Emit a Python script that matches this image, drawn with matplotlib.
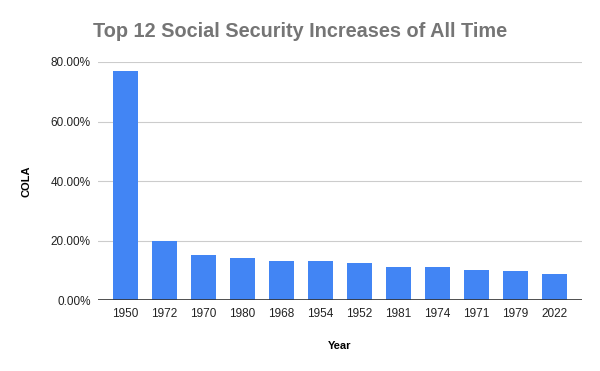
import matplotlib
matplotlib.use('Agg')
import matplotlib.pyplot as plt
from matplotlib.ticker import FuncFormatter

years = ['1950', '1972', '1970', '1980', '1968', '1954', '1952', '1981', '1974', '1971', '1979', '2022']
cola = [77.0, 20.0, 15.0, 14.3, 13.0, 13.0, 12.5, 11.2, 11.0, 10.0, 9.9, 8.7]

plt.rcParams['font.family'] = ['Liberation Sans', 'DejaVu Sans']


def main():
    fig = plt.figure(figsize=(6, 3.71), dpi=100)
    ax = fig.add_axes([0.163, 0.191, 0.807, 0.642])

    x = range(len(years))
    ax.bar(x, cola, width=0.64, color='#4285F4', zorder=2)

    ax.set_xlim(-0.7, len(years) - 0.3)
    ax.set_ylim(0, 80)
    ax.set_yticks([0, 20, 40, 60, 80])
    ax.yaxis.set_major_formatter(FuncFormatter(lambda v, p: '{:.2f}%'.format(v)))
    ax.set_xticks(list(x))
    ax.set_xticklabels(years)

    ax.grid(axis='y', color='#cccccc', linewidth=0.8, zorder=0)
    ax.axhline(0, color='#333333', linewidth=1.2, zorder=3)
    for s in ax.spines.values():
        s.set_visible(False)
    ax.tick_params(axis='both', length=0, labelsize=8.5, colors='#222222')
    ax.tick_params(axis='x', pad=6)
    ax.tick_params(axis='y', pad=5)

    ax.set_xlabel('Year', fontsize=8, fontweight='bold', labelpad=15)
    ax.set_ylabel('COLA', fontsize=8, fontweight='bold', labelpad=14)

    fig.text(0.5, 0.915, 'Top 12 Social Security Increases of All Time',
             ha='center', va='center', fontsize=14.3, fontweight='bold', color='#757575')

    fig.savefig('out.png', dpi=100)


if __name__ == '__main__':
    main()
